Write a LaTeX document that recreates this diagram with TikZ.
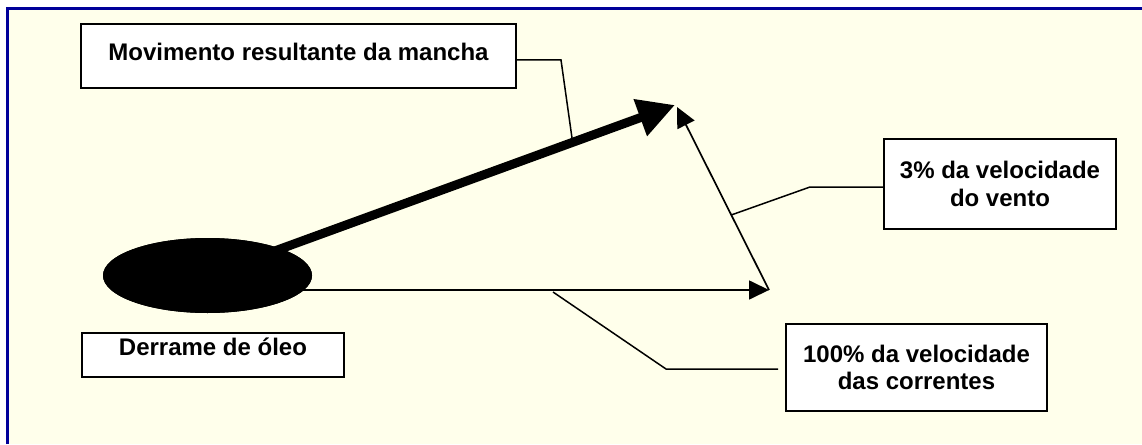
\documentclass[tikz,border=0pt]{standalone}
\usepackage{fontspec}
\setmainfont{Liberation Sans}
\usetikzlibrary{arrows.meta,shapes.geometric,calc}
\definecolor{cream}{HTML}{FFFFEB}
\definecolor{framenavy}{HTML}{000099}
\begin{document}
\begin{tikzpicture}[x=1pt,y=-1pt,
  box/.style={draw=black, line width=2pt, fill=white, align=center, inner sep=0pt,
    font=\fontsize{24}{27.5}\selectfont\bfseries},
  thinline/.style={line width=1.7pt},
  callout/.style={line width=1.5pt},
  thintip/.style={-{Triangle[length=20pt,width=19pt]}},
  thicktip/.style={line width=9pt,-{Triangle[length=37pt,width=37pt]}}]
\useasboundingbox (0,0) rectangle (1142,444);
\fill[white] (0,0) rectangle (1142,444);
\fill[cream] (8,9) rectangle (1142,444);
\draw[framenavy, line width=3pt] (7.5,444) -- (7.5,8.5) -- (1142,8.5);

% boxes
\node[box, minimum width=435pt, minimum height=64pt, text height=17.5pt, text depth=9.5pt]
  (mov) at (298.5,56) {Movimento resultante da mancha};
\node[box, minimum width=232pt, minimum height=90pt]
  (vento) at (1000,184) {3\% da velocidade\\do vento};
\node[box, minimum width=261pt, minimum height=87pt]
  (corr) at (916.5,367.5) {100\% da velocidade\\das correntes};
\node[box, minimum width=262pt, minimum height=44pt, text height=17.5pt, text depth=17.5pt]
  (der) at (213,355) {Derrame de óleo};

% arrows
\coordinate (T) at (675,105);
\coordinate (C) at (769,290);
\coordinate (W) at (677,107);
\node[ellipse, fill=black, minimum width=209pt, minimum height=75pt, inner sep=0pt]
  (spill) at (207.5,275.5) {};
\draw[thicktip] (spill.center) -- (T);
\draw[thinline, thintip] (spill.center |- C) -- (C);
\draw[thinline, thintip] (C) -- (W);
\node[ellipse, fill=black, minimum width=209pt, minimum height=75pt, inner sep=0pt]
  at (spill.center) {};

% callouts
\coordinate (m1) at (572,138);
\coordinate (v1) at ($(C)!0.41!(W)$);
\coordinate (c1) at (553,292);
\coordinate (c2) at (778,369);
\draw[callout] ([yshift=-4pt]mov.east) -- (561,60) -- (m1);
\draw[callout] (v1) -- (810,187) -- (vento.west |- 810,187);
\draw[callout] (c1) -- (666,369) -- (c2);
\end{tikzpicture}
\end{document}
